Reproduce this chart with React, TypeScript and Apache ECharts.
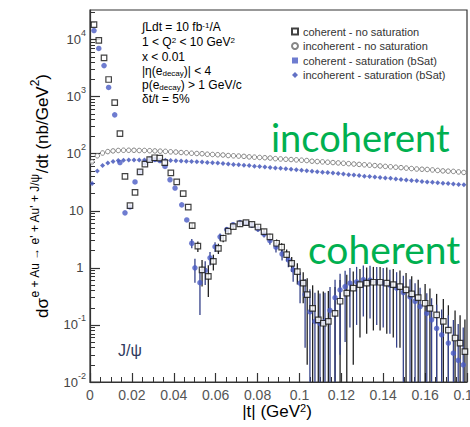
import React, { useEffect, useRef } from "react";
import * as echarts from "echarts";

// ---------- data ----------
// coherent - no saturation (open squares): |t| (GeV^2), dσ/dt (nb/GeV^2), error
const COH_NS_T = [0.0019, 0.0042, 0.0067, 0.0089, 0.0118, 0.0143, 0.0167, 0.0191, 0.0215, 0.0239, 0.0262, 0.0285, 0.0309, 0.0333, 0.0357, 0.0386, 0.0414, 0.0445, 0.0469, 0.0488, 0.0515, 0.0535, 0.0565, 0.0589, 0.0613, 0.0636, 0.066, 0.0684, 0.0716, 0.0745, 0.0773, 0.0802, 0.0831, 0.0859, 0.0891, 0.0915, 0.0939, 0.0963, 0.099, 0.1018, 0.1037, 0.1063, 0.109, 0.1114, 0.1138, 0.117, 0.1194, 0.1226, 0.1257, 0.1289, 0.1321, 0.1353, 0.1385, 0.1417, 0.1448, 0.148, 0.1509, 0.1536, 0.1567, 0.16, 0.1623, 0.1655, 0.1687, 0.1711, 0.1743, 0.1767, 0.179];
const COH_NS_V = [18300, 9700, 4800, 2000, 785, 225, 40, 12.3, 21, 48, 66, 79, 85, 84, 70, 46, 32, 20, 11.6, 5.5, 2.4, 0.92, 0.71, 1.3, 2.2, 3.3, 4.4, 5.3, 5.9, 6.2, 5.8, 5.2, 4.3, 3.5, 2.7, 2.3, 1.7, 1.2, 0.86, 0.54, 0.34, 0.195, 0.123, 0.107, 0.115, 0.16, 0.26, 0.36, 0.44, 0.51, 0.54, 0.56, 0.56, 0.54, 0.51, 0.47, 0.41, 0.35, 0.3, 0.24, 0.195, 0.15, 0.115, 0.081, 0.059, 0.048, 0.034];
const COH_NS_E = [0, 0, 0, 0, 0, 0, 0, 0, 0, 0, 0, 0, 0, 0, 0, 0, 0, 0, 0, 0.6, 0.5, 0.45, 0.4, 0.4, 0.45, 0.5, 0.5, 0.5, 0.55, 0.55, 0.55, 0.5, 0.5, 0.45, 0.45, 0.4, 0.4, 0.35, 0.35, 0.3, 0.32, 0.3, 0.28, 0.28, 0.28, 0.3, 0.35, 0.4, 0.42, 0.45, 0.47, 0.48, 0.48, 0.47, 0.45, 0.43, 0.4, 0.36, 0.32, 0.28, 0.24, 0.2, 0.17, 0.14, 0.12, 0.1, 0.09];

// coherent - saturation (bSat) (blue dots)
const COH_S_T = [0.0019, 0.0042, 0.0067, 0.0089, 0.0118, 0.0143, 0.0167, 0.0191, 0.0215, 0.0239, 0.0263, 0.0286, 0.031, 0.0334, 0.0358, 0.0382, 0.0406, 0.0438, 0.0462, 0.0486, 0.0501, 0.0525, 0.055, 0.0573, 0.0597, 0.0621, 0.0653, 0.0683, 0.0716, 0.0745, 0.0773, 0.0802, 0.0831, 0.0859, 0.0888, 0.0917, 0.0947, 0.097, 0.1003, 0.1027, 0.105, 0.1074, 0.1098, 0.1122, 0.1146, 0.117, 0.1194, 0.1218, 0.1241, 0.1273, 0.1305, 0.1337, 0.1369, 0.14, 0.1432, 0.1464, 0.1496, 0.1528, 0.1552, 0.1576, 0.1608, 0.1631, 0.1655, 0.1679, 0.1711, 0.1735, 0.1758, 0.1782];
const COH_S_V = [14400, 7000, 3500, 1450, 480, 70, 9.2, 11.7, 32, 48, 69, 80, 80, 76, 60, 35, 25, 12.7, 6.9, 2.7, 1.0, 0.55, 0.9, 1.5, 2.35, 3.5, 4.7, 5.7, 6.2, 6.1, 5.6, 4.8, 3.9, 3.0, 2.3, 1.75, 1.38, 0.92, 0.54, 0.34, 0.17, 0.115, 0.107, 0.115, 0.18, 0.3, 0.41, 0.47, 0.54, 0.57, 0.62, 0.61, 0.57, 0.54, 0.5, 0.44, 0.37, 0.31, 0.26, 0.21, 0.16, 0.123, 0.087, 0.067, 0.048, 0.032, 0.024, 0.02];
const COH_S_E = [0, 0, 0, 0, 0, 0, 0, 0, 0, 0, 0, 0, 0, 0, 0, 0, 0, 0, 0, 0.5, 0.45, 0.4, 0.4, 0.4, 0.45, 0.5, 0.5, 0.5, 0.55, 0.55, 0.55, 0.5, 0.5, 0.45, 0.45, 0.4, 0.35, 0.35, 0.3, 0.3, 0.25, 0.25, 0.25, 0.25, 0.28, 0.32, 0.38, 0.42, 0.45, 0.47, 0.48, 0.48, 0.47, 0.45, 0.43, 0.4, 0.36, 0.32, 0.28, 0.24, 0.2, 0.17, 0.14, 0.12, 0.1, 0.09, 0.08, 0.07];

// incoherent series (bins of 0.0025 GeV^2)
const INC_T = [0.001, 0.0035, 0.006, 0.0085, 0.011, 0.0135, 0.016, 0.0185, 0.021, 0.0235, 0.026, 0.0285, 0.031, 0.0335, 0.036, 0.0385, 0.041, 0.0435, 0.046, 0.0485, 0.051, 0.0535, 0.056, 0.0585, 0.061, 0.0635, 0.066, 0.0685, 0.071, 0.0735, 0.076, 0.0785, 0.081, 0.0835, 0.086, 0.0885, 0.091, 0.0935, 0.096, 0.0985, 0.101, 0.1035, 0.106, 0.1085, 0.111, 0.1135, 0.116, 0.1185, 0.121, 0.1235, 0.126, 0.1285, 0.131, 0.1335, 0.136, 0.1385, 0.141, 0.1435, 0.146, 0.1485, 0.151, 0.1535, 0.156, 0.1585, 0.161, 0.1635, 0.166, 0.1685, 0.171, 0.1735, 0.176, 0.1785];
const INC_NS_V = [72, 92, 103, 109, 112, 114, 115, 115, 115, 114, 114, 113, 112, 111, 110, 108, 107, 105, 104, 102, 101, 100, 98, 97, 96, 95, 93, 92, 91, 90, 88, 87, 86, 85, 84, 82, 81, 80, 79, 78, 77, 76, 74, 73, 72, 71, 70, 69, 68, 67, 66, 65, 64, 63, 62, 61, 60, 59, 58, 57, 56, 55, 54, 53.5, 53, 52, 51, 50, 49.5, 49, 48, 47];
const INC_S_V = [30, 50, 62, 69, 73, 76, 77, 78, 78, 78, 78, 78, 77.5, 77, 76.5, 76, 75, 74.5, 74, 73, 72.5, 71.5, 70.5, 69.5, 68.5, 67.5, 66, 65, 64, 63, 62, 60.5, 59.5, 58.5, 57.5, 56.5, 55.5, 54.5, 53.5, 52.5, 51.5, 50.5, 49.5, 48.5, 47.5, 47, 46, 45, 44, 43, 42.5, 41.5, 40.5, 40, 39, 38.5, 37.5, 37, 36, 35.5, 34.5, 34, 33.5, 32.5, 32, 31.5, 31, 30.5, 30, 29.5, 29, 28.5];

const X_TICKS = [0, 0.02, 0.04, 0.06, 0.08, 0.1, 0.12, 0.14, 0.16, 0.18];
const X_TICK_LABELS = ["0", "0.02", "0.04", "0.06", "0.08", "0.1", "0.12", "0.14", "0.16", "0.18"];
const Y_TICKS = [0.01, 0.1, 1, 10, 100, 1000, 10000];
const Y_TICK_LABELS = ["{b|10}{s|-2}", "{b|10}{s|-1}", "{b|1}{s| }", "{b|10}{s| }", "{b|10}{s|2}", "{b|10}{s|3}", "{b|10}{s|4}"];

const SERIES_NAMES = [
  "coherent - no saturation",
  "incoherent - no saturation",
  "coherent - saturation (bSat)",
  "incoherent - saturation (bSat)",
];

const FONT = "Liberation Sans";

export default function App() {
  const ref = useRef<HTMLDivElement>(null);
  useEffect(() => {
    const chart = echarts.init(ref.current!, null, { renderer: "svg" });

    const minorTicks: number[] = [];
    for (let d = 0.01; d <= 10000; d *= 10) {
      for (let k = 2; k <= 9; k++) {
        const v = +(d * k).toPrecision(3);
        if (v < 33000) minorTicks.push(v);
      }
    }

    const errRender = (color: string) => (params: any, api: any) => {
      const t = api.value(0);
      const v = api.value(1);
      const e = api.value(2);
      if (!e) return { type: "group", children: [] };
      const hi = api.coord([t, v + e]);
      const lo = api.coord([t, Math.max(v - e, 0.005)]);
      return {
        type: "line",
        shape: { x1: hi[0], y1: hi[1], x2: lo[0], y2: lo[1] },
        style: { stroke: color, lineWidth: 1.3 },
      };
    };

    const mainRich = (fs: number, lh: number, color: string) => ({
      m: { fontSize: fs, lineHeight: lh, verticalAlign: "middle", fontFamily: FONT, color },
    });

    const option: any = {
      animation: false,
      textStyle: { fontFamily: FONT },
      grid: {
        left: 90,
        right: 3,
        top: 10,
        bottom: 45,
        containLabel: false,
        outerBoundsMode: "none",
        show: true,
        borderColor: "#333",
        borderWidth: 1.2,
        backgroundColor: "transparent",
      },
      legend: {
        orient: "vertical",
        left: 286,
        top: 20,
        itemWidth: 6,
        itemHeight: 6,
        itemGap: 1.5,
        textStyle: { fontSize: 11, color: "#333", fontFamily: FONT, lineHeight: 13 },
        data: [
          { name: SERIES_NAMES[0], icon: "rect" },
          { name: SERIES_NAMES[1], icon: "circle" },
          { name: SERIES_NAMES[2], icon: "rect" },
          { name: SERIES_NAMES[3], icon: "diamond" },
        ],
      },
      xAxis: {
        type: "value",
        min: 0,
        max: 0.18,
        interval: 0.02,
        axisLine: { show: true, lineStyle: { color: "#333", width: 1.2 } },
        axisTick: { show: true, inside: true, length: 9, lineStyle: { color: "#333", width: 1.2 } },
        minorTick: { show: true, splitNumber: 4, length: 5, lineStyle: { color: "#333", width: 1 } },
        splitLine: { show: false },
        axisLabel: {
          fontSize: 14,
          color: "#555",
          fontFamily: FONT,
          margin: 6,
          lineHeight: 14,
          formatter: (v: number) => {
            const i = X_TICKS.findIndex((x) => Math.abs(x - v) < 1e-9);
            return i >= 0 ? X_TICK_LABELS[i] : "";
          },
        },
      },
      yAxis: [
        {
          type: "log",
          logBase: 10,
          min: 0.01,
          max: 33000,
          axisLine: { show: true, lineStyle: { color: "#333", width: 1.2 } },
          axisTick: { show: true, inside: true, length: 10, customValues: Y_TICKS, lineStyle: { color: "#333", width: 1.2 } },
          splitLine: { show: false },
          axisLabel: {
            customValues: Y_TICKS,
            margin: 4,
            formatter: (v: number) => {
              const i = Y_TICKS.findIndex((x) => Math.abs(Math.log10(x) - Math.log10(v)) < 1e-6);
              return i >= 0 ? Y_TICK_LABELS[i] : "";
            },
            rich: {
              b: { fontSize: 13, lineHeight: 22, verticalAlign: "middle", color: "#444", fontFamily: FONT },
              s: { fontSize: 9, lineHeight: 14, verticalAlign: "top", color: "#444", fontFamily: FONT },
            },
          },
        },
        {
          type: "log",
          logBase: 10,
          min: 0.01,
          max: 33000,
          position: "left",
          axisLine: { show: false },
          axisTick: { show: true, inside: true, length: 5, customValues: minorTicks, lineStyle: { color: "#333", width: 1 } },
          axisLabel: { show: false },
          splitLine: { show: false },
        },
      ],
      series: [
        {
          type: "custom",
          name: "err-coh-ns",
          xAxisIndex: 0,
          yAxisIndex: 0,
          clip: true,
          z: 2,
          renderItem: errRender("#222"),
          encode: { x: 0, y: 1 },
          data: COH_NS_T.map((t, i) => [t, COH_NS_V[i], COH_NS_E[i]]),
        },
        {
          type: "custom",
          name: "err-coh-s",
          xAxisIndex: 0,
          yAxisIndex: 0,
          clip: true,
          z: 2,
          renderItem: errRender("#35428a"),
          encode: { x: 0, y: 1 },
          data: COH_S_T.map((t, i) => [t, COH_S_V[i], COH_S_E[i]]),
        },
        {
          type: "scatter",
          name: SERIES_NAMES[1],
          z: 3,
          symbol: "circle",
          symbolSize: 4.5,
          itemStyle: { color: "#fff", borderColor: "#666", borderWidth: 1 },
          data: INC_T.map((t, i) => [t, INC_NS_V[i]]),
        },
        {
          type: "scatter",
          name: SERIES_NAMES[3],
          z: 3,
          symbol: "diamond",
          symbolSize: 5,
          itemStyle: { color: "#3b4db6" },
          data: INC_T.map((t, i) => [t, INC_S_V[i]]),
        },
        {
          type: "scatter",
          name: SERIES_NAMES[2],
          z: 4,
          symbol: "circle",
          symbolSize: 5.5,
          itemStyle: { color: "#4a5bc4" },
          data: COH_S_T.map((t, i) => [t, COH_S_V[i]]),
        },
        {
          type: "scatter",
          name: SERIES_NAMES[0],
          z: 5,
          symbol: "rect",
          symbolSize: 5.5,
          itemStyle: { color: "#fff", borderColor: "#111", borderWidth: 1.2 },
          data: COH_NS_T.map((t, i) => [t, COH_NS_V[i]]),
        },
      ],
      graphic: [
        // annotation block
        ...[
          { y: 27, text: "{m|∫Ldt = 10 fb}{s|-1}{m|/A}" },
          { y: 42, text: "{m|1 < Q}{s|2}{m| < 10 GeV}{s|2}" },
          { y: 57, text: "{m|x < 0.01}" },
          { y: 71, text: "{m||η(e}{d|decay}{m|)| < 4}" },
          { y: 85, text: "{m|p(e}{d|decay}{m|) > 1 GeV/c}" },
          { y: 99, text: "{m|δt/t = 5%}" },
        ].map((l) => ({
          type: "text",
          x: 142,
          y: l.y,
          z: 10,
          style: {
            text: l.text,
            align: "left",
            verticalAlign: "middle",
            textAlign: "left",
            textVerticalAlign: "middle",
            rich: {
              ...mainRich(12, 12, "#333"),
              s: { fontSize: 8, lineHeight: 4, verticalAlign: "top", fontFamily: FONT, color: "#333" },
              d: { fontSize: 8, lineHeight: 4, verticalAlign: "bottom", fontFamily: FONT, color: "#333" },
            },
          },
        })),
        // y axis title
        {
          type: "text",
          x: 42,
          y: 196,
          rotation: Math.PI / 2,
          z: 10,
          style: {
            text: "{m|dσ}{s|e + Au → e' + Au' + J/ψ}{m|/dt (nb/GeV}{s|2}{m|)}",
            align: "center",
            verticalAlign: "middle",
            textAlign: "center",
            textVerticalAlign: "middle",
            rich: {
              ...mainRich(17, 26, "#444"),
              s: { fontSize: 12, lineHeight: 12, verticalAlign: "top", fontFamily: FONT, color: "#444" },
            },
          },
        },
        // x axis title
        {
          type: "text",
          x: 277,
          y: 411,
          z: 10,
          style: {
            text: "{m||t| (GeV}{s|2}{m|)}",
            align: "center",
            verticalAlign: "middle",
            textAlign: "center",
            textVerticalAlign: "middle",
            rich: {
              ...mainRich(17, 18, "#555"),
              s: { fontSize: 11, lineHeight: 8, verticalAlign: "top", fontFamily: FONT, color: "#555" },
            },
          },
        },
        // J/psi
        {
          type: "text",
          x: 118,
          y: 350,
          z: 10,
          style: {
            text: "J/ψ",
            fill: "#2f3b5e",
            fontSize: 16,
            fontFamily: FONT,
            align: "left",
            verticalAlign: "middle",
            textAlign: "left",
            textVerticalAlign: "middle",
          },
        },
        // green annotations
        {
          type: "text",
          x: 271,
          y: 137,
          z: 10,
          style: {
            text: "incoherent",
            fill: "#00B050",
            fontSize: 38,
            fontFamily: "Lato",
            align: "left",
            verticalAlign: "middle",
            textAlign: "left",
            textVerticalAlign: "middle",
          },
        },
        {
          type: "text",
          x: 308,
          y: 249,
          z: 10,
          style: {
            text: "coherent",
            fill: "#00B050",
            fontSize: 39,
            fontFamily: "Lato",
            align: "left",
            verticalAlign: "middle",
            textAlign: "left",
            textVerticalAlign: "middle",
          },
        },
      ],
    };

    chart.setOption(option);
    return () => chart.dispose();
  }, []);

  return (
    <div
      ref={ref}
      style={{ position: "fixed", left: 0, top: 0, width: 470, height: 427, background: "#fff" }}
    />
  );
}
